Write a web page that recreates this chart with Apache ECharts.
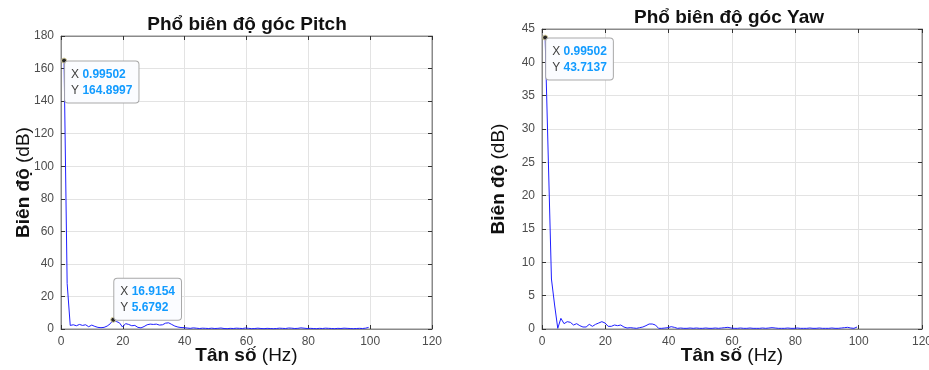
<!DOCTYPE html>
<html>
<head>
<meta charset="utf-8">
<script src="https://cdn.jsdelivr.net/npm/echarts@6/dist/echarts.min.js"></script>
<style>html,body{margin:0;padding:0;background:#fff;}#c{width:929px;height:370px;}</style>
</head>
<body>
<div id="c"></div>
<script>
// Frequency bins (Hz)
var freq = [0.995,1.990,2.985,3.980,4.975,5.970,6.965,7.960,8.955,9.950,
10.945,11.940,12.935,13.930,14.925,15.920,16.915,17.910,18.905,19.900,
20.895,21.890,22.885,23.881,24.876,25.871,26.866,27.861,28.856,29.851,
30.846,31.841,32.836,33.831,34.826,35.821,36.816,37.811,38.806,39.801,
40.796,41.791,42.786,43.781,44.776,45.771,46.766,47.761,48.756,49.751,
50.746,51.741,52.736,53.731,54.726,55.721,56.716,57.711,58.706,59.701,
60.696,61.691,62.686,63.681,64.676,65.671,66.666,67.661,68.656,69.651,
70.647,71.642,72.637,73.632,74.627,75.622,76.617,77.612,78.607,79.602,
80.597,81.592,82.587,83.582,84.577,85.572,86.567,87.562,88.557,89.552,
90.547,91.542,92.537,93.532,94.527,95.522,96.517,97.512,98.507,99.502];

var pitchAmp = [164.8997,28,2.2,2.6,2.0,2.8,2.2,2.6,1.4,2.4,
1.6,1.0,0.8,1.0,1.8,3.2,5.6792,4.6,3.8,1.2,
3.3,2.8,2.0,2.2,1.0,0.7,1.5,2.6,3.0,2.8,
3.0,2.4,2.6,3.6,3.8,2.8,1.8,1.2,0.9,0.8,
0.6,0.4,0.7,0.5,0.3,0.5,0.4,0.3,0.5,0.3,
0.4,0.6,0.3,0.2,0.4,0.3,0.5,0.4,0.3,0.6,
0.4,0.2,0.3,0.5,0.3,0.2,0.4,0.3,0.2,0.3,
0.5,0.4,0.3,0.6,0.5,0.3,0.4,0.7,0.5,0.3,
0.4,0.3,0.2,0.4,0.3,0.5,0.4,0.3,0.2,0.4,
0.3,0.5,0.4,0.3,0.2,0.3,0.4,0.3,0.5,1.0];

var yawAmp = [43.7137,25.5,7.5,3.6,0.1,1.6,0.8,1.1,1.0,0.6,
0.8,0.5,0.3,0.3,0.7,0.4,0.7,0.9,1.1,0.9,
0.4,0.4,0.6,0.5,0.6,0.3,0.15,0.2,0.15,0.1,
0.2,0.3,0.5,0.75,0.75,0.6,0.1,0.1,0.15,0.2,
0.35,0.25,0.1,0.15,0.1,0.1,0.15,0.1,0.15,0.1,
0.1,0.15,0.1,0.1,0.15,0.1,0.15,0.2,0.25,0.15,
0.1,0.1,0.15,0.1,0.1,0.15,0.1,0.1,0.1,0.15,
0.1,0.15,0.2,0.15,0.1,0.1,0.1,0.15,0.1,0.1,
0.15,0.1,0.1,0.1,0.15,0.1,0.1,0.15,0.1,0.1,
0.1,0.15,0.1,0.1,0.15,0.2,0.25,0.15,0.1,0.3];

var titles = ['Phổ biên độ góc Pitch', 'Phổ biên độ góc Yaw'];
var xTicks = {min: 0, max: 120, interval: 20};
var pitchY = {min: 0, max: 180, interval: 20};
var yawY = {min: 0, max: 45, interval: 5};

// data tips: [x, y]
var pitchTips = [[0.99502, 164.8997], [16.9154, 5.6792]];
var yawTips = [[0.99502, 43.7137]];

function pairs(xs, ys) { return xs.map(function (x, i) { return [x, ys[i]]; }); }

var axisColor = '#8a8a8a';
var font = 'Liberation Sans, Arial, sans-serif';

function nameStyle() {
  return {rich: {
    b: {fontFamily: font, fontWeight: 'bold', fontSize: 19, color: '#111'},
    n: {fontFamily: font, fontSize: 19, color: '#111'}}};
}
function xAxisCfg(gi) {
  return {
    type: 'value', gridIndex: gi, min: xTicks.min, max: xTicks.max, interval: xTicks.interval,
    name: '{b|Tân số}{n| (Hz)}', nameLocation: 'middle', nameGap: 17, nameMoveOverlap: false,
    nameTextStyle: nameStyle(),
    axisLine: {show: true, onZero: false, lineStyle: {color: axisColor}},
    axisTick: {show: true, inside: true, length: 4, lineStyle: {color: '#333'}},
    axisLabel: {fontFamily: font, fontSize: 12, color: '#4d4d4d', margin: 7},
    splitLine: {show: true, lineStyle: {color: '#e3e3e3'}}
  };
}
function yAxisCfg(gi, r, gap) {
  return {
    type: 'value', gridIndex: gi, min: r.min, max: r.max, interval: r.interval,
    name: '{b|Biên độ}{n| (dB)}', nameLocation: 'middle', nameGap: gap, nameMoveOverlap: false,
    nameTextStyle: nameStyle(),
    axisLine: {show: true, onZero: false, lineStyle: {color: axisColor}},
    axisTick: {show: true, inside: true, length: 4, lineStyle: {color: '#333'}},
    axisLabel: {fontFamily: font, fontSize: 12, color: '#4d4d4d', margin: 7},
    splitLine: {show: true, lineStyle: {color: '#e3e3e3'}}
  };
}
// mirrored frame axes (top / right) carrying only inward ticks
function topAxis(gi) {
  return {type: 'value', gridIndex: gi, position: 'top', min: xTicks.min, max: xTicks.max, interval: xTicks.interval,
    axisLine: {show: true, onZero: false, lineStyle: {color: axisColor}},
    axisTick: {show: true, inside: true, length: 4, lineStyle: {color: '#333'}},
    axisLabel: {show: false}, splitLine: {show: false}};
}
function rightAxis(gi, r) {
  return {type: 'value', gridIndex: gi, position: 'right', min: r.min, max: r.max, interval: r.interval,
    axisLine: {show: true, onZero: false, lineStyle: {color: axisColor}},
    axisTick: {show: true, inside: true, length: 4, lineStyle: {color: '#333'}},
    axisLabel: {show: false}, splitLine: {show: false}};
}
function tipPoints(tips, positions) {
  return tips.map(function (t, i) {
    return {
      coord: t, value: t[1],
      label: {
        show: true, position: positions[i], align: 'left', verticalAlign: 'top',
        formatter: '{k|X} {v|' + t[0] + '}\n{k|Y} {v|' + t[1] + '}',
        backgroundColor: '#fbfcff', borderColor: '#a9a9a9', borderWidth: 1, borderRadius: 3,
        padding: [5, 6, 4, 6],
        rich: {
          k: {fontFamily: font, fontSize: 12, color: '#404040', lineHeight: 16},
          v: {fontFamily: font, fontSize: 12, fontWeight: 'bold', color: '#129bff', lineHeight: 16}
        }
      }
    };
  });
}
function lineSeries(gi, xs, ys, tips, positions) {
  return {
    type: 'line', xAxisIndex: gi, yAxisIndex: gi, data: pairs(xs, ys),
    showSymbol: false, symbol: 'none', animation: false,
    lineStyle: {color: '#1f1fff', width: 1},
    markPoint: {
      symbol: 'circle', symbolSize: 5, animation: false,
      itemStyle: {color: '#262626', borderColor: '#d8d0a0', borderWidth: 1},
      data: tipPoints(tips, positions)
    }
  };
}

var chart = echarts.init(document.getElementById('c'), null, {renderer: 'canvas'});
chart.setOption({
  backgroundColor: '#fff',
  animation: false,
  title: [
    {text: titles[0], left: 242, top: 10, textAlign: 'center',
      textStyle: {fontFamily: font, fontWeight: 'bold', fontSize: 19, color: '#111'}},
    {text: titles[1], left: 724, top: 3, textAlign: 'center',
      textStyle: {fontFamily: font, fontWeight: 'bold', fontSize: 19, color: '#111'}}
  ],
  grid: [
    {left: 61, right: 497, top: 36, bottom: 41, show: true, borderColor: axisColor, borderWidth: 1,
      containLabel: false, outerBoundsMode: 'none'},
    {left: 542, right: 7, top: 29, bottom: 41, show: true, borderColor: axisColor, borderWidth: 1,
      containLabel: false, outerBoundsMode: 'none'}
  ],
  xAxis: [xAxisCfg(0), xAxisCfg(1), topAxis(0), topAxis(1)],
  yAxis: [yAxisCfg(0, pitchY, 28), yAxisCfg(1, yawY, 34), rightAxis(0, pitchY), rightAxis(1, yawY)],
  series: [
    lineSeries(0, freq, pitchAmp, pitchTips, [[4, 4], [4, -38]]),
    lineSeries(1, freq, yawAmp, yawTips, [[4, 4]])
  ]
});
</script>
</body>
</html>
